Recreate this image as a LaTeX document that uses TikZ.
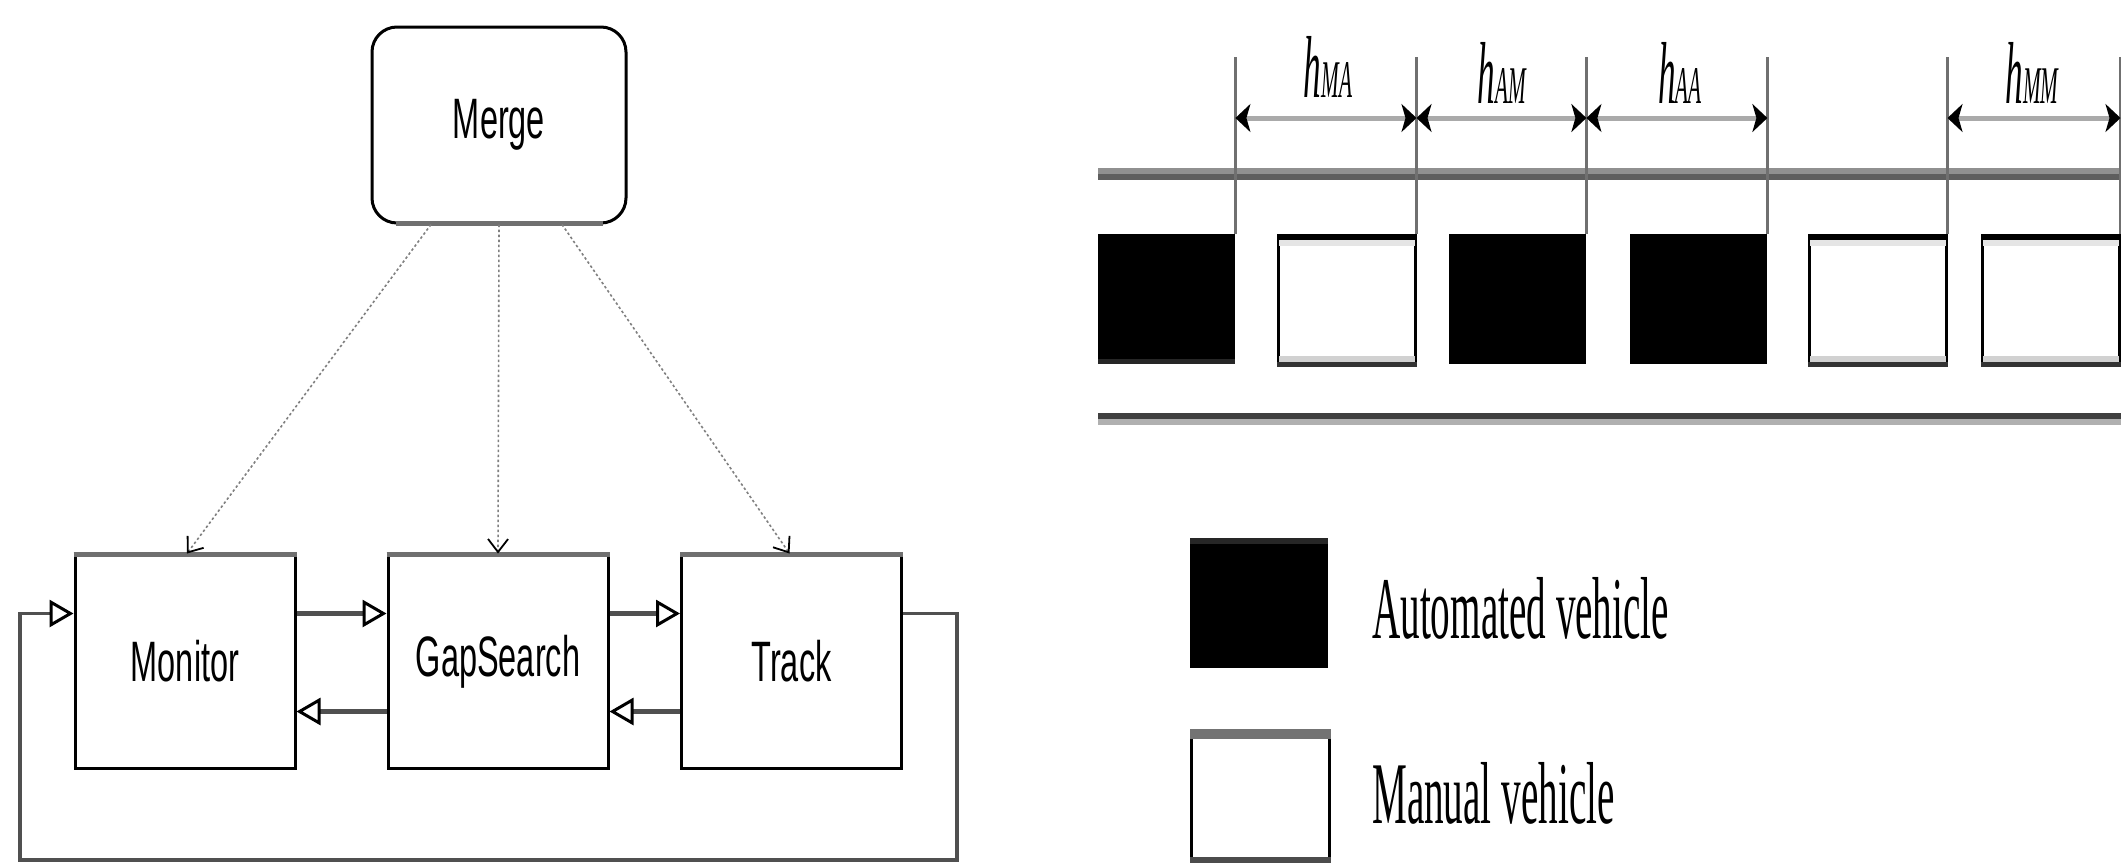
\documentclass[tikz,border=0pt]{standalone}
\usepackage{fontspec}
\newfontfamily\boxfont{Liberation Sans}
\newfontfamily\legfont{Liberation Serif}
\usetikzlibrary{arrows.meta}
\definecolor{edgegray}{HTML}{707070}
\definecolor{flowgray}{HTML}{505050}
\definecolor{roadlight}{HTML}{909090}
\definecolor{roaddark}{HTML}{5E5E5E}
\definecolor{roadblack}{HTML}{404040}
\definecolor{roadpale}{HTML}{B0B0B0}
\definecolor{ticklinecol}{HTML}{707070}
\definecolor{dimgray}{HTML}{AAAAAA}
\newcommand\boxtext[1]{\scalebox{0.57}[1]{\boxfont\fontsize{57}{60}\selectfont #1}}
\newcommand\legtext[1]{\scalebox{0.445}[1]{\legfont\fontsize{88}{90}\selectfont #1}}
\newcommand\hlab[1]{\scalebox{0.4}[1]{\legfont\itshape\fontsize{88}{90}\selectfont h\fontsize{53}{55}\selectfont #1}}
\begin{document}
\begin{tikzpicture}[x=1pt,y=-1pt,
  block/.style={draw=black,line width=3pt,fill=white,inner sep=0pt,
    minimum width=220pt,minimum height=213pt},
  topedge/.style={draw=edgegray,line width=5pt},
  flow/.style={draw=flowgray,line width=4.5pt,
    -{Triangle[length=24pt,width=27pt,line width=3pt,color=black,fill=white]}},
  loopline/.style={draw=flowgray,line width=3.5pt,
    -{Triangle[length=24pt,width=27pt,line width=3pt,color=black,fill=white]}},
  call/.style={draw=gray,line width=1.6pt,dash pattern=on 2.5pt off 2.5pt,
    -{Straight Barb[length=13pt,width=20pt,line width=1.8pt,color=black]}},
  car/.style={anchor=north west,inner sep=0pt,minimum width=137pt,minimum height=130pt},
  autocar/.style={car,fill=black,draw=none},
  mancar/.style={car,fill=white,draw=black,line width=2.5pt},
  tickline/.style={draw=ticklinecol,line width=3pt},
  dim/.style={draw=dimgray,line width=5pt,
    {Stealth[length=15pt,width=28pt,inset=4pt,color=black]}-{Stealth[length=15pt,width=28pt,inset=4pt,color=black]}},
  lab/.style={anchor=base,inner sep=0pt}
]
\useasboundingbox (0,0) rectangle (2121,863);
\fill[white] (0,0) rectangle (2121,863);

% ---------------- control architecture ----------------
\node[block,rounded corners=25pt,minimum width=254pt,minimum height=196pt] (merge) at (499,125) {\boxtext{Merge}};
\node[block] (mon) at (185,661.5) {\boxtext{Monitor}};
\node[block] (gap) at (498,661.5) {\boxtext{GapSearch}};
\node[block] (trk) at (791.5,661.5) {\boxtext{Track}};

\foreach \b in {mon,gap,trk}
  \draw[topedge] ([yshift=-1pt]\b.north west) -- ([yshift=-1pt]\b.north east);
\draw[topedge] ([xshift=25pt,yshift=1pt]merge.south west) -- ([xshift=-25pt,yshift=1pt]merge.south east);

% invocations from Merge
\draw[call] ([xshift=-68pt]merge.south) -- ([xshift=2pt]mon.north);
\draw[call] (merge.south) -- (gap.north);
\draw[call] ([xshift=63pt]merge.south) -- ([xshift=-2pt]trk.north);

% transitions between the states
\draw[flow] ([yshift=48pt]mon.east) -- ([yshift=48pt]gap.west);
\draw[flow] ([yshift=48pt]gap.east) -- ([yshift=48pt]trk.west);
\draw[flow] ([yshift=-50pt]gap.west) -- ([yshift=-50pt]mon.east);
\draw[flow] ([yshift=-50pt]trk.west) -- ([yshift=-50pt]gap.east);

\coordinate (loopR) at (957,860);
\coordinate (loopL) at (20,860);
\draw[loopline] ([yshift=48pt]trk.east) -| (loopR) -- (loopL) |- ([yshift=48pt]mon.west);

% ---------------- platoon on the road ----------------
\draw[roadlight,line width=6pt] (1098,171) -- (2121,171);
\draw[roaddark,line width=6pt] (1098,177) -- (2121,177);
\draw[roadblack,line width=6pt] (1098,416) -- (2121,416);
\draw[roadpale,line width=6pt] (1098,422) -- (2121,422);

\node[autocar] (c1) at (1098,234) {};
\node[mancar]  (c2) at (1277,234) {};
\node[autocar] (c3) at (1449,234) {};
\node[autocar] (c4) at (1630,234) {};
\node[mancar]  (c5) at (1808,234) {};
\node[mancar]  (c6) at (1981,234) {};

\foreach \c in {c2,c5,c6}{
  \fill[black] (\c.north west) rectangle ([yshift=-6pt]\c.north east);
  \fill[black!10] ([xshift=2pt,yshift=-6pt]\c.north west) rectangle ([xshift=-2pt,yshift=-12pt]\c.north east);
  \fill[black!80] (\c.south west) rectangle ([yshift=5pt]\c.south east);
  \fill[black!18] ([xshift=2pt,yshift=5pt]\c.south west) rectangle ([xshift=-2pt,yshift=11pt]\c.south east);
}
\fill[black!85] ([yshift=5pt]c1.south west) rectangle (c1.south east);

\foreach \c in {c1,c2,c3,c4,c5,c6}
  \draw[tickline] (\c.north east) -- (\c.north east |- 0,57);

\draw[dim] (c1.north east |- 0,118) -- (c2.north east |- 0,118);
\draw[dim] (c2.north east |- 0,118) -- (c3.north east |- 0,118);
\draw[dim] (c3.north east |- 0,118) -- (c4.north east |- 0,118);
\draw[dim] (c5.north east |- 0,118) -- (c6.north east |- 0,118);

\node[lab] (hma) at (1328,97)  {\hlab{MA}};
\node[lab] (ham) at (1502,103) {\hlab{AM}};
\node[lab] (haa) at (1680,103) {\hlab{AA}};
\node[lab] (hmm) at (2032,103) {\hlab{MM}};

% ---------------- legend ----------------
\node[autocar,minimum width=138pt,minimum height=130pt] (la) at (1190,538) {};
\fill[black!85] (la.north west) rectangle ([yshift=-6pt]la.north east);
\node[mancar,minimum width=138pt,minimum height=131pt] (lm) at (1190,729) {};
\fill[black!55] (lm.north west) rectangle ([yshift=-10pt]lm.north east);
\fill[black!70] (lm.south west) rectangle ([yshift=6pt]lm.south east);

\node[anchor=base west,inner sep=0pt] (lat) at (1372,638) {\legtext{Automated vehicle}};
\node[anchor=base west,inner sep=0pt] (lmt) at (1372,823) {\legtext{Manual vehicle}};
\end{tikzpicture}
\end{document}
